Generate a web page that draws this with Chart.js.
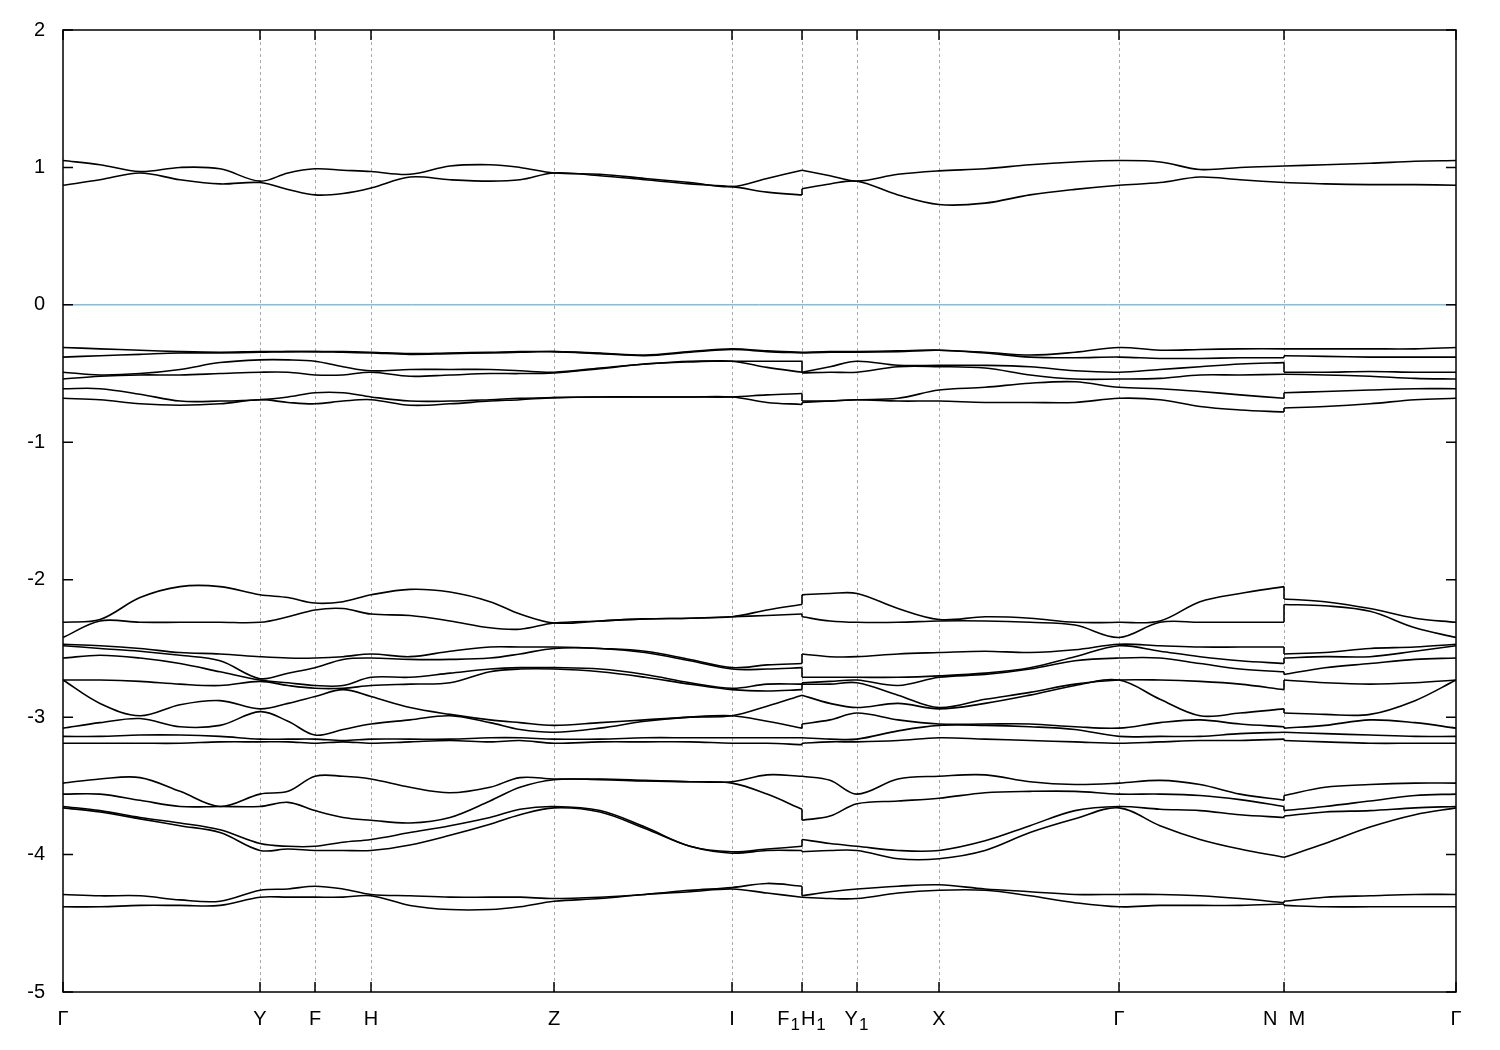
<!DOCTYPE html>
<html>
<head>
<meta charset="utf-8">
<script src="https://cdn.jsdelivr.net/npm/chart.js@4.4.1/dist/chart.umd.min.js"></script>
<style>
  body { margin: 0; background: #fff; }
  #bands { display: block; }
</style>
</head>
<body>
<canvas id="bands" width="1500" height="1050"></canvas>
<script>
// k-path positions of the sampled points (F1|H1 and N|M are repeated: jumps)
const kPath = [0, 0.37, 0.77, 1.17, 1.57, 1.97, 2.25, 2.52, 2.80, 3.08,
  3.47, 3.87, 4.27, 4.57, 4.91, 5.37, 5.82, 6.27, 6.69, 7.04,
  7.39, 7.39, 7.67, 7.94, 8.35, 8.76, 9.22, 9.67, 10.12, 10.56,
  10.97, 11.37, 11.77, 12.21, 12.21, 12.62, 13.07, 13.52, 13.93];
const breaks = [20, 33]; // index of last point before a jump

const tickPos = [0, 1.97, 2.52, 3.08, 4.91, 6.69, 7.39, 7.94, 8.76, 10.56, 12.21, 13.93];
const tickNames = ["Γ", "Y", "F", "H", "Z", "I", "F₁H₁", "Y₁", "X", "Γ", "N  M", "Γ"];

const fermiLevel = 0;

// energies (eV)
const conductionUpper = [1.05, 1.02, 0.97, 1.00, 0.99, 0.90, 0.96, 0.99, 0.98, 0.97,
  0.95, 1.01, 1.02, 1.00, 0.96, 0.95, 0.92, 0.89, 0.86, 0.92,
  0.98, 0.98, 0.94, 0.90, 0.95, 0.975, 0.99, 1.02, 1.04, 1.05,
  1.04, 0.985, 1.00, 1.01, 1.01, 1.02, 1.03, 1.045, 1.05];
const conductionLower = [0.87, 0.91, 0.96, 0.91, 0.88, 0.89, 0.84, 0.80, 0.81, 0.85,
  0.93, 0.91, 0.90, 0.91, 0.96, 0.94, 0.91, 0.88, 0.86, 0.82,
  0.80, 0.845, 0.88, 0.90, 0.80, 0.73, 0.74, 0.80, 0.84, 0.87,
  0.89, 0.93, 0.91, 0.89, 0.89, 0.88, 0.875, 0.875, 0.87];

const topValence = [
  [-0.31,-0.32,-0.33,-0.34,-0.345,-0.34,-0.34,-0.34,-0.34,-0.345,
   -0.355,-0.35,-0.345,-0.34,-0.34,-0.35,-0.365,-0.34,-0.32,-0.335,
   -0.345,-0.345,-0.34,-0.34,-0.335,-0.33,-0.345,-0.365,-0.345,-0.31,
   -0.33,-0.325,-0.32,-0.32,-0.32,-0.32,-0.32,-0.32,-0.31],
  [-0.38,-0.37,-0.36,-0.35,-0.35,-0.345,-0.34,-0.34,-0.345,-0.35,
   -0.36,-0.355,-0.35,-0.345,-0.34,-0.355,-0.37,-0.345,-0.325,-0.34,
   -0.35,-0.35,-0.345,-0.345,-0.34,-0.33,-0.35,-0.38,-0.385,-0.38,
   -0.39,-0.39,-0.385,-0.385,-0.37,-0.375,-0.38,-0.38,-0.38],
  [-0.49,-0.51,-0.50,-0.47,-0.42,-0.40,-0.40,-0.41,-0.45,-0.48,
   -0.47,-0.47,-0.47,-0.48,-0.49,-0.46,-0.43,-0.41,-0.41,-0.41,
   -0.41,-0.49,-0.45,-0.41,-0.44,-0.44,-0.44,-0.45,-0.48,-0.49,
   -0.47,-0.45,-0.43,-0.42,-0.49,-0.49,-0.485,-0.49,-0.49],
  [-0.54,-0.52,-0.51,-0.51,-0.50,-0.49,-0.49,-0.51,-0.51,-0.49,
   -0.52,-0.51,-0.50,-0.50,-0.495,-0.465,-0.43,-0.415,-0.41,-0.455,
   -0.49,-0.495,-0.49,-0.49,-0.45,-0.45,-0.46,-0.51,-0.54,-0.54,
   -0.535,-0.51,-0.51,-0.505,-0.505,-0.51,-0.52,-0.535,-0.54],
  [-0.61,-0.61,-0.65,-0.70,-0.70,-0.69,-0.67,-0.64,-0.64,-0.67,
   -0.70,-0.70,-0.69,-0.68,-0.675,-0.67,-0.67,-0.67,-0.67,-0.655,
   -0.645,-0.70,-0.70,-0.69,-0.68,-0.62,-0.60,-0.57,-0.56,-0.60,
   -0.61,-0.63,-0.655,-0.68,-0.64,-0.63,-0.62,-0.61,-0.61],
  [-0.68,-0.69,-0.72,-0.73,-0.72,-0.69,-0.71,-0.72,-0.70,-0.69,
   -0.73,-0.72,-0.70,-0.69,-0.675,-0.67,-0.67,-0.67,-0.67,-0.71,
   -0.725,-0.71,-0.70,-0.69,-0.70,-0.70,-0.71,-0.71,-0.71,-0.68,
   -0.69,-0.74,-0.765,-0.78,-0.75,-0.74,-0.72,-0.69,-0.68]
];

const midValence = [
  [-2.31,-2.29,-2.13,-2.05,-2.05,-2.11,-2.13,-2.17,-2.16,-2.11,
   -2.07,-2.09,-2.16,-2.25,-2.315,-2.30,-2.285,-2.28,-2.27,-2.22,
   -2.18,-2.11,-2.10,-2.10,-2.21,-2.29,-2.27,-2.28,-2.31,-2.31,
   -2.30,-2.16,-2.10,-2.05,-2.14,-2.16,-2.21,-2.28,-2.31],
  [-2.42,-2.30,-2.31,-2.31,-2.31,-2.31,-2.27,-2.22,-2.21,-2.25,
   -2.26,-2.30,-2.35,-2.36,-2.315,-2.30,-2.285,-2.28,-2.27,-2.26,
   -2.25,-2.27,-2.30,-2.31,-2.31,-2.30,-2.30,-2.31,-2.33,-2.42,
   -2.31,-2.31,-2.31,-2.31,-2.18,-2.19,-2.23,-2.35,-2.42],
  [-2.47,-2.48,-2.50,-2.53,-2.54,-2.56,-2.57,-2.57,-2.56,-2.54,
   -2.56,-2.52,-2.49,-2.49,-2.49,-2.50,-2.52,-2.58,-2.64,-2.62,
   -2.61,-2.54,-2.56,-2.56,-2.54,-2.53,-2.52,-2.53,-2.51,-2.47,
   -2.48,-2.49,-2.49,-2.49,-2.54,-2.53,-2.50,-2.49,-2.47],
  [-2.48,-2.50,-2.52,-2.55,-2.59,-2.72,-2.68,-2.64,-2.58,-2.57,
   -2.58,-2.58,-2.57,-2.54,-2.50,-2.50,-2.53,-2.59,-2.65,-2.65,
   -2.64,-2.71,-2.71,-2.71,-2.71,-2.70,-2.68,-2.64,-2.56,-2.48,
   -2.52,-2.56,-2.59,-2.61,-2.57,-2.56,-2.56,-2.52,-2.48],
  [-2.57,-2.55,-2.57,-2.61,-2.67,-2.73,-2.75,-2.77,-2.77,-2.71,
   -2.71,-2.68,-2.65,-2.64,-2.64,-2.65,-2.69,-2.75,-2.79,-2.76,
   -2.76,-2.75,-2.74,-2.73,-2.77,-2.71,-2.69,-2.65,-2.59,-2.57,
   -2.57,-2.61,-2.65,-2.67,-2.69,-2.64,-2.61,-2.58,-2.57],
  [-2.73,-2.73,-2.74,-2.76,-2.77,-2.74,-2.77,-2.79,-2.79,-2.77,
   -2.76,-2.75,-2.67,-2.65,-2.65,-2.67,-2.71,-2.76,-2.80,-2.81,
   -2.80,-2.76,-2.76,-2.75,-2.84,-2.93,-2.87,-2.82,-2.76,-2.73,
   -2.73,-2.74,-2.76,-2.80,-2.73,-2.75,-2.76,-2.75,-2.73],
  [-2.73,-2.90,-2.99,-2.91,-2.88,-2.94,-2.90,-2.85,-2.80,-2.85,
   -2.93,-2.98,-3.02,-3.04,-3.06,-3.04,-3.02,-3.00,-2.99,-2.92,
   -2.84,-2.84,-2.90,-2.93,-2.90,-2.94,-2.90,-2.84,-2.77,-2.73,
   -2.87,-2.99,-2.97,-2.94,-2.97,-2.98,-2.98,-2.88,-2.73],
  [-3.08,-3.04,-3.01,-3.07,-3.06,-2.96,-3.03,-3.13,-3.09,-3.05,
   -3.02,-2.99,-3.04,-3.09,-3.11,-3.08,-3.03,-3.00,-2.99,-3.03,
   -3.08,-3.05,-3.02,-2.97,-3.02,-3.05,-3.05,-3.05,-3.07,-3.08,
   -3.04,-3.02,-3.05,-3.07,-3.08,-3.06,-3.02,-3.04,-3.08],
  [-3.14,-3.14,-3.13,-3.13,-3.14,-3.16,-3.16,-3.16,-3.17,-3.16,
   -3.16,-3.16,-3.15,-3.15,-3.16,-3.16,-3.15,-3.15,-3.15,-3.15,
   -3.15,-3.15,-3.16,-3.16,-3.10,-3.06,-3.06,-3.07,-3.09,-3.14,
   -3.14,-3.14,-3.12,-3.11,-3.11,-3.12,-3.13,-3.14,-3.14],
  [-3.19,-3.19,-3.19,-3.19,-3.18,-3.18,-3.18,-3.19,-3.18,-3.19,
   -3.18,-3.17,-3.18,-3.17,-3.19,-3.18,-3.18,-3.18,-3.19,-3.19,
   -3.20,-3.19,-3.18,-3.18,-3.17,-3.15,-3.16,-3.17,-3.18,-3.19,
   -3.18,-3.17,-3.17,-3.16,-3.17,-3.18,-3.19,-3.19,-3.19]
];

const lowValence = [
  [-3.48,-3.45,-3.44,-3.54,-3.65,-3.56,-3.54,-3.43,-3.43,-3.45,
   -3.51,-3.55,-3.51,-3.44,-3.45,-3.45,-3.46,-3.47,-3.47,-3.42,
   -3.43,-3.43,-3.46,-3.56,-3.45,-3.43,-3.42,-3.47,-3.49,-3.48,
   -3.46,-3.49,-3.56,-3.605,-3.57,-3.51,-3.49,-3.48,-3.48],
  [-3.56,-3.56,-3.605,-3.65,-3.65,-3.65,-3.62,-3.68,-3.73,-3.75,
   -3.77,-3.73,-3.61,-3.51,-3.455,-3.455,-3.465,-3.47,-3.48,-3.56,
   -3.67,-3.75,-3.72,-3.63,-3.61,-3.59,-3.55,-3.54,-3.54,-3.56,
   -3.56,-3.57,-3.60,-3.65,-3.68,-3.65,-3.61,-3.57,-3.56],
  [-3.65,-3.68,-3.73,-3.77,-3.82,-3.92,-3.94,-3.94,-3.91,-3.89,
   -3.84,-3.79,-3.73,-3.67,-3.65,-3.68,-3.80,-3.94,-3.98,-3.96,
   -3.94,-3.89,-3.92,-3.94,-3.97,-3.97,-3.90,-3.79,-3.68,-3.65,
   -3.67,-3.68,-3.71,-3.73,-3.72,-3.69,-3.68,-3.66,-3.65],
  [-3.66,-3.69,-3.74,-3.79,-3.84,-3.97,-3.96,-3.97,-3.97,-3.97,
   -3.93,-3.86,-3.78,-3.71,-3.66,-3.69,-3.81,-3.94,-3.99,-3.97,
   -3.97,-3.98,-3.97,-3.97,-4.03,-4.03,-3.97,-3.84,-3.74,-3.66,
   -3.79,-3.89,-3.96,-4.02,-4.02,-3.92,-3.80,-3.71,-3.66],
  [-4.29,-4.30,-4.30,-4.33,-4.34,-4.26,-4.25,-4.23,-4.25,-4.29,
   -4.30,-4.31,-4.31,-4.31,-4.32,-4.31,-4.29,-4.26,-4.24,-4.21,
   -4.23,-4.30,-4.27,-4.25,-4.23,-4.22,-4.25,-4.27,-4.29,-4.29,
   -4.29,-4.30,-4.32,-4.35,-4.34,-4.31,-4.30,-4.29,-4.29],
  [-4.38,-4.38,-4.37,-4.37,-4.37,-4.31,-4.31,-4.31,-4.31,-4.30,
   -4.37,-4.40,-4.40,-4.38,-4.34,-4.32,-4.29,-4.27,-4.25,-4.28,
   -4.31,-4.31,-4.32,-4.32,-4.28,-4.26,-4.26,-4.30,-4.35,-4.38,
   -4.37,-4.37,-4.37,-4.36,-4.37,-4.38,-4.38,-4.38,-4.38]
];

const allBands = [conductionUpper, conductionLower, ...topValence, ...midValence, ...lowValence];

// build datasets: each band is split at the jumps, and the jump itself is a vertical piece
const datasets = [{
  data: [{ x: kPath[0], y: fermiLevel }, { x: kPath[kPath.length - 1], y: fermiLevel }],
  borderColor: "#3a9fd6",
  borderWidth: 1,
  pointRadius: 0,
  fill: false
}];

const lineStyle = { borderColor: "#000", borderWidth: 1.6, pointRadius: 0, fill: false };

allBands.forEach(band => {
  let start = 0;
  [...breaks, kPath.length - 1].forEach(end => {
    const pts = [];
    for (let i = start; i <= end; i++) pts.push({ x: kPath[i], y: band[i] });
    datasets.push({ ...lineStyle, data: pts, tension: 0.35 });
    if (end < kPath.length - 1 && band[end] !== band[end + 1]) {
      datasets.push({ ...lineStyle, data: [{ x: kPath[end], y: band[end] }, { x: kPath[end + 1], y: band[end + 1] }] });
    }
    start = end + 1;
  });
});

const labelFont = "20px 'Liberation Sans', Arial, sans-serif";
const subFont = "17px 'Liberation Sans', Arial, sans-serif";

// draw a k-point label, turning "₁" into a lowered 1
function drawKLabel(ctx, text, cx, top) {
  const parts = [];
  for (const ch of text) {
    if (ch === "₁") parts.push({ t: "1", sub: true });
    else parts.push({ t: ch, sub: false });
  }
  let total = 0;
  parts.forEach(p => {
    ctx.font = p.sub ? subFont : labelFont;
    p.w = ctx.measureText(p.t).width + (p.sub ? 2 : 0);
    total += p.w;
  });
  let xPos = cx - total / 2;
  ctx.textBaseline = "top";
  ctx.textAlign = "left";
  parts.forEach(p => {
    ctx.font = p.sub ? subFont : labelFont;
    ctx.fillText(p.t, xPos + (p.sub ? 1 : 0), p.sub ? top + 8 : top);
    xPos += p.w;
  });
}

const framePlugin = {
  id: "frame",
  beforeDatasetsDraw(chart) {
    const { ctx, chartArea: a, scales: { x } } = chart;
    ctx.save();
    ctx.strokeStyle = "#a8a8a8";
    ctx.lineWidth = 1;
    ctx.setLineDash([3, 3]);
    tickPos.slice(1, -1).forEach(v => {
      const px = Math.round(x.getPixelForValue(v)) + 0.5;
      ctx.beginPath();
      ctx.moveTo(px, a.top);
      ctx.lineTo(px, a.bottom);
      ctx.stroke();
    });
    ctx.restore();
  },
  afterDatasetsDraw(chart) {
    const { ctx, chartArea: a, scales: { x, y } } = chart;
    ctx.save();
    ctx.strokeStyle = "#000";
    ctx.lineWidth = 1.5;
    ctx.strokeRect(a.left, a.top, a.right - a.left, a.bottom - a.top);
    ctx.beginPath();
    for (let v = -5; v <= 2; v++) {
      const py = y.getPixelForValue(v);
      ctx.moveTo(a.left, py); ctx.lineTo(a.left + 10, py);
      ctx.moveTo(a.right, py); ctx.lineTo(a.right - 10, py);
    }
    tickPos.forEach(v => {
      const px = x.getPixelForValue(v);
      ctx.moveTo(px, a.bottom); ctx.lineTo(px, a.bottom - 10);
      ctx.moveTo(px, a.top); ctx.lineTo(px, a.top + 10);
    });
    ctx.stroke();
    ctx.fillStyle = "#000";
    tickPos.forEach((v, i) => drawKLabel(ctx, tickNames[i], x.getPixelForValue(v), a.bottom + 17));
    ctx.restore();
  }
};

const ctx = document.getElementById("bands").getContext("2d");
new Chart(ctx, {
  type: "line",
  data: { datasets: datasets },
  options: {
    responsive: false,
    animation: false,
    devicePixelRatio: 1,
    layout: { padding: { top: 28, right: 44, left: 0, bottom: 0 } },
    plugins: { legend: { display: false }, tooltip: { enabled: false } },
    scales: {
      x: {
        type: "linear",
        min: 0,
        max: 13.93,
        grid: { display: false, drawTicks: false },
        border: { display: false },
        afterBuildTicks: scale => { scale.ticks = tickPos.map(v => ({ value: v })); },
        afterFit: scale => { scale.height = 58; },
        ticks: { display: false }
      },
      y: {
        min: -5,
        max: 2,
        grid: { display: false, drawTicks: false },
        border: { display: false },
        afterFit: scale => { scale.width = 63; },
        ticks: {
          stepSize: 1,
          padding: 18,
          color: "#000",
          font: { family: "Liberation Sans, Arial, sans-serif", size: 20 }
        }
      }
    }
  },
  plugins: [framePlugin]
});
</script>
</body>
</html>
